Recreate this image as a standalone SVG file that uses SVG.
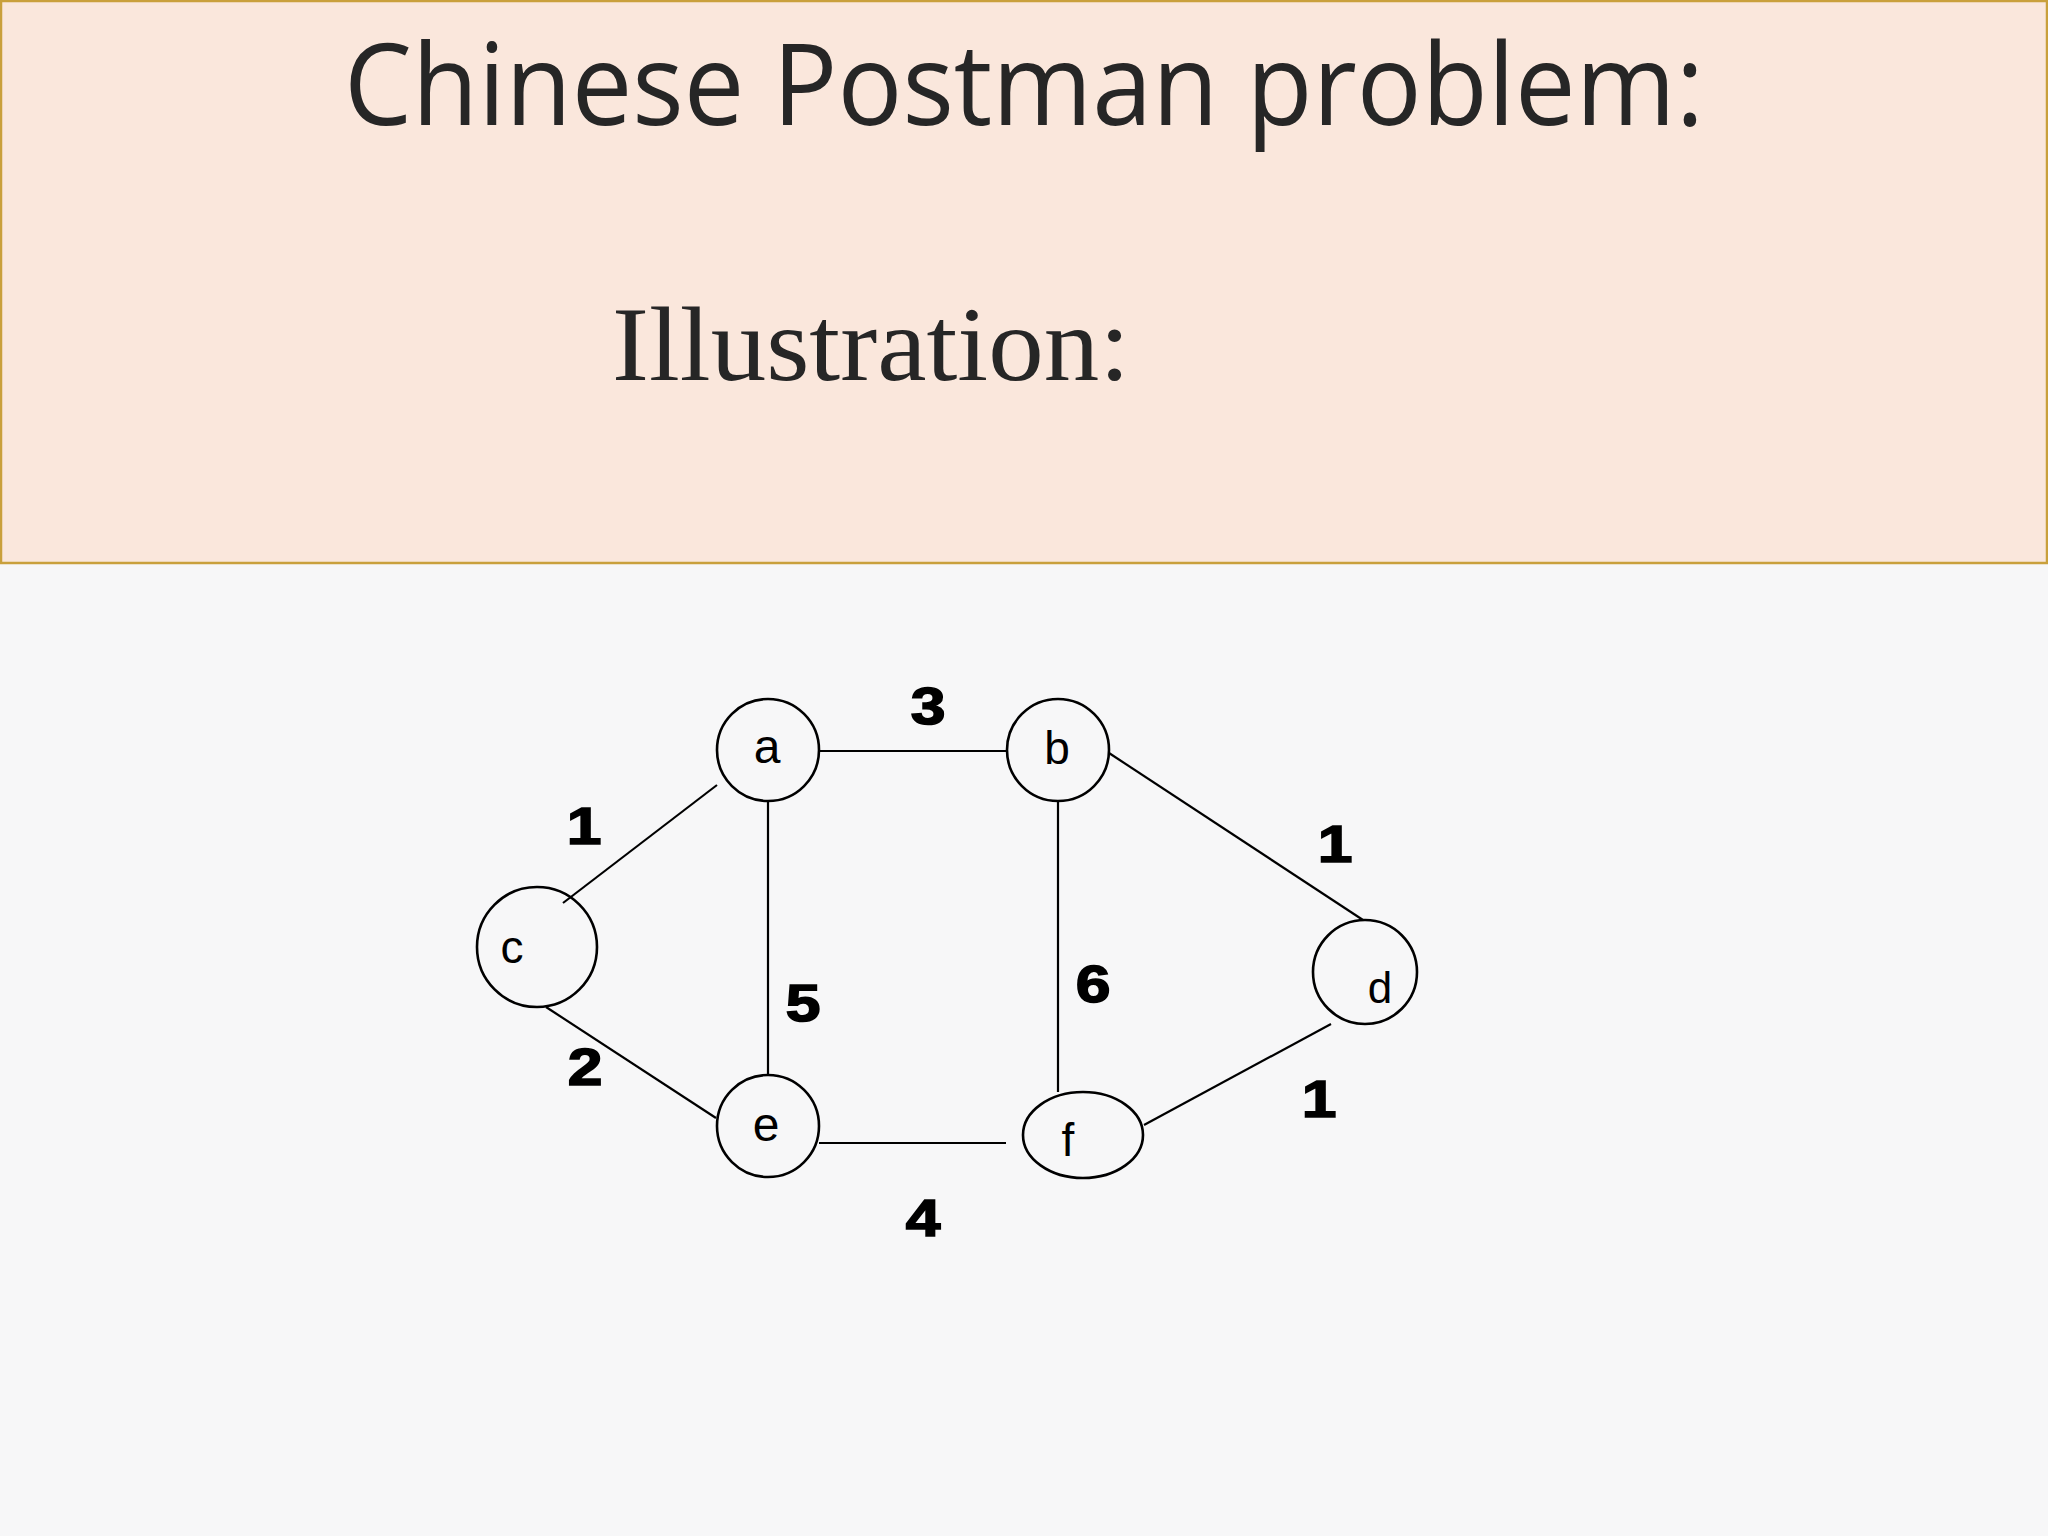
<svg xmlns="http://www.w3.org/2000/svg" width="2048" height="1536" viewBox="0 0 2048 1536">
<style>
.node{fill:none;stroke:#000;stroke-width:2.6}
.lbl{font-family:"Liberation Sans",Arial,sans-serif;fill:#000;text-anchor:middle}
.w{font-family:"Liberation Sans",Arial,sans-serif;font-weight:bold;font-size:52px;fill:#000;stroke:#000;stroke-width:1.6;text-anchor:middle}
.edge{stroke:#000;stroke-width:2.2;fill:none}
</style>
<rect x="0" y="0" width="2048" height="1536" fill="#f7f7f8"/>
<g id="header">
<rect x="1" y="1" width="2046" height="562" fill="#fae7dc" stroke="#c9a03c" stroke-width="2.5"/>
<text x="1024" y="125" font-family="'Open Sans','Liberation Sans',sans-serif" font-size="113" fill="#262626" text-anchor="middle" textLength="1360" lengthAdjust="spacingAndGlyphs">Chinese Postman problem:</text>
<text x="612" y="380" font-family="'Liberation Serif',serif" font-size="106" fill="#262626" textLength="518" lengthAdjust="spacingAndGlyphs">Illustration:</text>
</g>
<g id="connectors">
<line class="edge" x1="819" y1="751" x2="1007" y2="751"/>
<line class="edge" x1="717" y1="785" x2="563" y2="903"/>
<line class="edge" x1="768" y1="802" x2="768" y2="1075"/>
<line class="edge" x1="546" y1="1007" x2="716" y2="1118"/>
<line class="edge" x1="819" y1="1143" x2="1006" y2="1143"/>
<line class="edge" x1="1058" y1="801" x2="1058" y2="1092"/>
<line class="edge" x1="1109" y1="753" x2="1363" y2="920"/>
<line class="edge" x1="1144" y1="1125" x2="1331" y2="1024"/>
</g>
<g id="weights">
<text class="w" transform="translate(928,724) scale(1.2,1)">3</text>
<text class="w" transform="translate(584,844) scale(1.2,1)">1</text>
<text class="w" transform="translate(803,1021) scale(1.2,1)">5</text>
<text class="w" transform="translate(1093,1002) scale(1.2,1)">6</text>
<text class="w" transform="translate(585,1085) scale(1.2,1)">2</text>
<text class="w" transform="translate(923,1236) scale(1.2,1)">4</text>
<text class="w" transform="translate(1335,862) scale(1.2,1)">1</text>
<text class="w" transform="translate(1319,1117) scale(1.2,1)">1</text>
</g>
<g id="node-a"><circle class="node" cx="768" cy="750" r="51"/><text class="lbl" x="767" y="763" font-size="48">a</text></g>
<g id="node-b"><circle class="node" cx="1058" cy="750" r="51"/><text class="lbl" x="1057" y="764" font-size="46">b</text></g>
<g id="node-c"><circle class="node" cx="537" cy="947" r="60"/><text class="lbl" x="512" y="963" font-size="46">c</text></g>
<g id="node-d"><ellipse class="node" cx="1365" cy="972" rx="52" ry="52"/><text class="lbl" x="1380" y="1003" font-size="44">d</text></g>
<g id="node-e"><circle class="node" cx="768" cy="1126" r="51"/><text class="lbl" x="766" y="1141" font-size="48">e</text></g>
<g id="node-f"><ellipse class="node" cx="1083" cy="1135" rx="60" ry="43"/><text class="lbl" x="1068" y="1156" font-size="46">f</text></g>
</svg>
